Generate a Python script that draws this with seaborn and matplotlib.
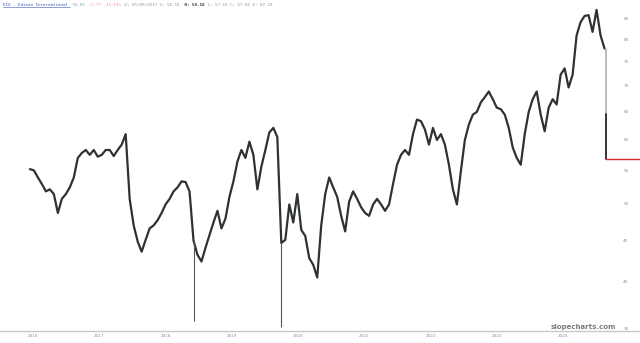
import numpy as np
import pandas as pd
import matplotlib
matplotlib.use("Agg")
import matplotlib.pyplot as plt
import seaborn as sns
from matplotlib.ticker import NullLocator, NullFormatter
from matplotlib.lines import Line2D

# ---- data ----
close = [
    55.2, 55.0, 53.9, 52.9, 51.8, 52.1, 51.4, 48.7, 50.7, 51.4,
    52.4, 53.9, 57.0, 57.8, 58.3, 57.5, 58.3, 57.2, 57.5, 58.3,
    58.3, 57.3, 58.3, 59.2, 61.0, 50.7, 47.0, 44.9, 43.6, 45.1,
    46.6, 47.0, 47.7, 48.7, 49.9, 50.7, 51.8, 52.4, 53.3, 53.2,
    51.8, 45.0, 43.2, 42.4, 44.1, 45.7, 47.4, 49.0, 46.6, 47.9,
    51.0, 53.3, 56.4, 58.3, 57.0, 59.7, 57.5, 52.1, 55.6, 58.3,
    61.3, 62.1, 60.5, 44.7, 45.1, 49.9, 47.4, 51.4, 46.4, 45.6,
    42.8, 42.0, 40.5, 47.0, 51.4, 53.9, 52.4, 51.0, 48.3, 46.2,
    50.3, 51.8, 50.7, 49.5, 48.7, 48.3, 49.9, 50.7, 49.9, 49.0,
    49.9, 52.9, 55.9, 57.5, 58.3, 57.5, 61.0, 63.6, 63.3, 61.8,
    59.2, 62.1, 60.0, 61.0, 59.2, 55.9, 52.1, 49.9, 54.9, 60.0,
    62.7, 64.5, 65.0, 66.8, 67.8, 68.9, 67.4, 65.8, 65.5, 64.5,
    62.1, 58.7, 57.0, 55.9, 61.0, 65.0, 67.4, 68.9, 64.5, 61.5,
    65.8, 67.4, 66.4, 72.3, 73.6, 69.7, 72.3, 80.9, 84.0, 85.5,
    85.7, 81.7, 87.0, 80.9, 77.9,
]
wick_idx = [41, 63]
wick_low = [35.8, 35.2]
prev_close = 64.58
last_price = 56.81
year_labels = ['2016', '2017', '2018', '2019', '2020', '2021', '2022', '2023', '2024']
y_ticks = [85, 80, 75, 70, 65, 60, 55, 50, 45, 40, 35]

# ---- frame ----
dates = pd.date_range('2015-12-15', periods=len(close), freq='22D')
df = pd.DataFrame({'date': dates, 'close': close})

sns.set_style('white')
plt.rcParams['font.family'] = ['DejaVu Sans']
fig = plt.figure(figsize=(6.4, 3.43), dpi=100)
ax = fig.add_axes([0, 12 / 343, 1, 331 / 343])

sns.lineplot(data=df, x='date', y='close', ax=ax, color='#2e332e', lw=1.6)
ax.vlines([dates[i] for i in wick_idx], [close[i] for i in wick_idx], wick_low,
          color='#555a55', lw=0.8)

ax.set_yscale('log')
ax.set_ylim(34.76, 89.49)
t0 = pd.Timestamp('2016-01-01')
yr = pd.Timedelta(days=365.25)
xl = (t0 - yr * (33 / 66.25), t0 + yr * (607 / 66.25))
ax.set_xlim(xl)

# last price drop + current level
xe = dates[-1] + pd.Timedelta(days=6)
ax.plot([xe, xe], [close[-1], prev_close], color='#b0b0b0', lw=1.2)
ax.plot([xe, xe], [prev_close, last_price], color='#111111', lw=1.2)
ax.plot([xe, xl[1]], [last_price, last_price], color='#d42a2a', lw=1.0)

# axes styling
for s in ['top', 'left', 'right']:
    ax.spines[s].set_visible(False)
ax.spines['bottom'].set_color('#c8c8cc')
ax.spines['bottom'].set_linewidth(1.0)

ax.set_xticks([pd.Timestamp(f'{y}-01-01') for y in year_labels])
ax.set_xticklabels(year_labels)
ax.tick_params(axis='x', length=0, pad=2, labelsize=3, labelcolor='#8c8ca8')

ax.yaxis.tick_right()
ax.yaxis.set_minor_locator(NullLocator())
ax.yaxis.set_minor_formatter(NullFormatter())
ax.set_yticks(y_ticks)
ax.set_yticklabels([str(v) for v in y_ticks])
ax.tick_params(axis='y', length=0, pad=-12, labelsize=3, labelcolor='#8c8ca8')
ax.set_xlabel('')
ax.set_ylabel('')
ax.grid(False)

# header
cw = 2.59 / 640
hy = 1 - 4.5 / 343
pieces = [
    ('EIX - Edison International', '#3a55b0', 'normal'),
    (' 56.81', '#8c96a8', 'normal'),
    (' -7.77 -11.51%', '#f08a8a', 'normal'),
    (' D: 05/09/2017 O: 58.15', '#8c96a8', 'normal'),
    (' H: 58.18', '#333333', 'bold'),
    (' L: 57.59 C: 57.86 V: 87.18', '#8c96a8', 'normal'),
]
pos = 3 / 640
for txt, col, w in pieces:
    fig.text(pos, hy, txt, ha='left', va='center', fontsize=3.1,
             family='DejaVu Sans Mono', color=col, fontweight=w)
    pos += cw * len(txt)
fig.add_artist(Line2D([3 / 640, 3 / 640 + cw * 26], [hy - 2.2 / 343] * 2,
                      color='#3a55b0', lw=0.4, transform=fig.transFigure))

fig.text(583 / 640, (343 - 327) / 343, 'slopecharts.com', ha='center', va='center',
         fontsize=5, color='#7a7a7a', fontweight='bold')

fig.savefig('out.png', dpi=100)
